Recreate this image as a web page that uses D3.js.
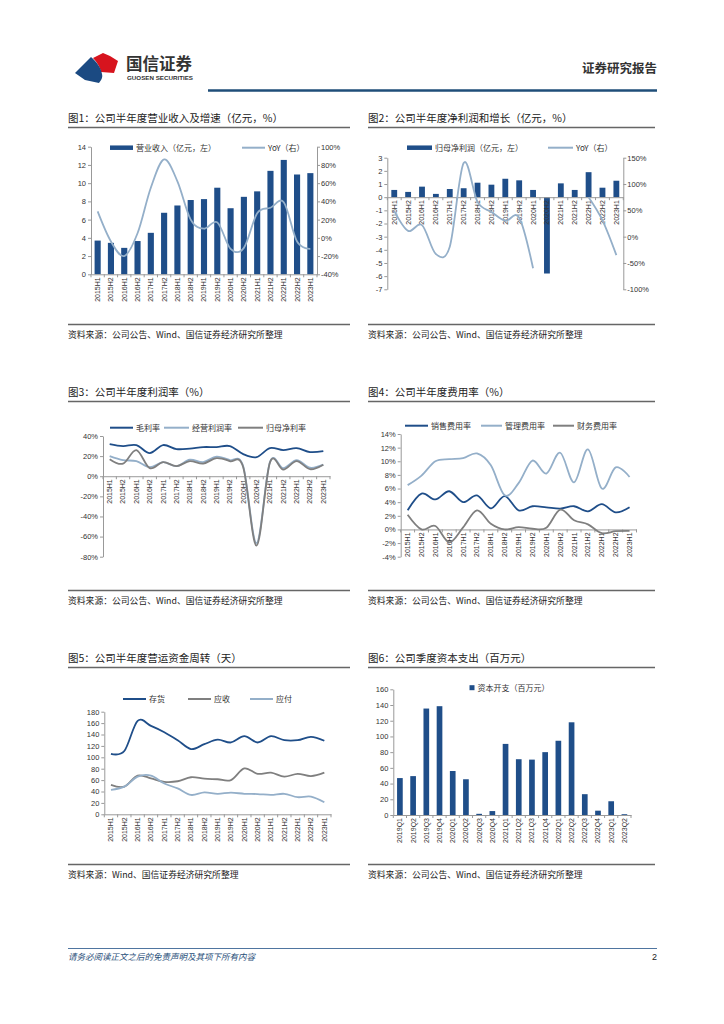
<!DOCTYPE html>
<html><head><meta charset="utf-8">
<script src="https://cdn.jsdelivr.net/npm/d3@7/dist/d3.min.js"></script>
<style>
body{margin:0;background:#fff;}
text{font-family:"Liberation Sans","Noto Sans CJK SC",sans-serif;}
.cjk{font-family:"Noto Sans CJK SC","Liberation Sans",sans-serif;}
</style></head>
<body>
<script>
// ---------- DATA ----------
const catsH = ["2015H1","2015H2","2016H1","2016H2","2017H1","2017H2","2018H1","2018H2","2019H1","2019H2","2020H1","2020H2","2021H1","2021H2","2022H1","2022H2","2023H1"];
const catsQ = ["2019Q1","2019Q2","2019Q3","2019Q4","2020Q1","2020Q2","2020Q3","2020Q4","2021Q1","2021Q2","2021Q3","2021Q4","2022Q1","2022Q2","2022Q3","2022Q4","2023Q1","2023Q2"];

const revenue    = [3.7,3.45,2.9,3.65,4.55,6.75,7.55,8.15,8.25,9.5,7.25,8.5,9.1,11.35,12.55,10.95,11.1];
const revenueYoY = [29,-4,-20,5,55,86,62,20,10,17,-12,-11,27,33,39,-4,-12];

const netProfit    = [0.55,0.4,0.8,0.25,0.62,0.68,1.1,0.95,1.4,1.28,0.55,-5.8,1.05,0.55,1.9,0.72,1.25];
const netProfitYoY = [49,11,22,-33,-19,140,66,47,30,36,-60,null,null,null,75,31,-35];

const grossMargin = [32,30,31,23,31,27,27.5,29,29,30,22,19,28,26,28,24,25];
const opMargin    = [20,16,15,9,14,10,16.5,14,19.5,16,10,-66.5,14,8,16,8.5,11.5];
const netMargin   = [17,12.5,26,8,14,10,15,12.5,18,15,9,-69,13.5,6.5,15,7,11.5];

const sellingRate = [2.8,5.25,4.4,5.6,4.0,5.0,3.1,4.9,2.8,3.4,3.25,3.05,3.4,2.65,3.7,2.5,3.25];
const adminRate   = [6.5,7.9,10,10.3,10.45,11.15,9.4,5.0,6.8,10.1,8.2,11.25,6.9,11.75,6.0,9.1,7.7];
const financeRate = [2.15,0,0.5,-1.9,0.3,2.8,0.85,0,0.35,0.1,0.25,2.9,1.35,0.75,-0.55,-0.25,-0.2];

const inventoryDays  = [106,111,164,155,144,130,114.5,123,131,126,137,126,137,130,130,136,129];
const receivableDays = [51.5,48.5,68,63,57,58,65,62.5,61.5,60,80.5,71,73,66,71,67,73];
const payableDays    = [43,48.5,66,68,54,45.5,34,38.5,36,38,36,35.5,34,36,30,31,21];

const capex = [47,49.5,135.5,138.5,56,45.5,1.5,5,90.5,71,70.5,80,94.5,118,26.5,5.5,17.5,1];

const ticks1L = [0,2,4,6,8,10,12,14];
const ticks1R = [-40,-20,0,20,40,60,80,100];
const ticks2L = [3,2,1,0,-1,-2,-3,-4,-5,-6,-7];
const ticks2R = [150,100,50,0,-50,-100];
const ticks3  = [40,20,0,-20,-40,-60,-80];
const ticks4  = [14,12,10,8,6,4,2,0,-2,-4];
const ticks5  = [0,20,40,60,80,100,120,140,160,180];
const ticks6  = [0,20,40,60,80,100,120,140,160];

// ---------- STYLE ----------
const NAVY = "#1f4e89", LIGHT = "#94afc9", GREY = "#7f7f7f", AX = "#999";
const W = 724, H = 1024;
const svg = d3.select("body").append("svg").attr("width", W).attr("height", H);

// ---------- HEADER ----------
svg.append("path").attr("d","M93,58 L103,53 L110,56 L118,61 L114,73 L101,72 C100,67 97,62 93,58 Z").attr("fill","#d7141e");
svg.append("path").attr("d","M75,73 L91,57 C97,62 101,68 102,74 C103,78 101,80 99,83 L85,80 Z").attr("fill","#1b4a82");
svg.append("text").attr("class","cjk").attr("x",126).attr("y",70).attr("font-size",16.5).attr("font-weight","bold").attr("fill","#333").text("国信证券");
svg.append("text").attr("x",127).attr("y",79.5).attr("font-size",5.5).attr("font-weight","bold").attr("fill","#333")
  .attr("textLength",66).attr("lengthAdjust","spacingAndGlyphs").text("GUOSEN SECURITIES");
svg.append("text").attr("class","cjk").attr("x",657).attr("y",73).attr("text-anchor","end").attr("font-size",12.5).attr("font-weight","bold").attr("fill","#333").text("证券研究报告");
svg.append("line").attr("x1",208).attr("x2",657).attr("y1",90.5).attr("y2",90.5).attr("stroke","#1f4e79").attr("stroke-width",2.5);

// ---------- FOOTER ----------
svg.append("line").attr("x1",68).attr("x2",657).attr("y1",948.5).attr("y2",948.5).attr("stroke","#4f75a0").attr("stroke-width",1);
svg.append("text").attr("class","cjk").attr("x",68).attr("y",960).attr("font-size",8.5).attr("font-style","italic").attr("fill","#1f4e79").text("请务必阅读正文之后的免责声明及其项下所有内容");
svg.append("text").attr("x",657).attr("y",960).attr("text-anchor","end").attr("font-size",9).attr("fill","#222").text("2");

// ---------- HELPERS ----------
function frame(x0, x1, titleY, srcY, title, src){
  svg.append("text").attr("class","cjk").attr("x",x0).attr("y",titleY).attr("font-size",10.5).attr("fill","#222").text(title);
  svg.append("line").attr("x1",x0).attr("x2",x1).attr("y1",titleY+5.5).attr("y2",titleY+5.5).attr("stroke","#666").attr("stroke-width",1.5);
  svg.append("line").attr("x1",x0).attr("x2",x1).attr("y1",srcY-13.5).attr("y2",srcY-13.5).attr("stroke","#666").attr("stroke-width",1.5);
  svg.append("text").attr("class","cjk").attr("x",x0).attr("y",srcY).attr("font-size",8.8).attr("fill","#222").text(src);
}
function styleAxis(g){
  g.selectAll(".domain").attr("stroke",AX);
  g.selectAll(".tick line").attr("stroke",AX);
  g.selectAll(".tick text").attr("font-size",7.5).attr("fill","#333").attr("font-family","Liberation Sans, sans-serif");
}
function leftAxis(scale, x, ticks, fmt){
  const g = svg.append("g").attr("transform",`translate(${x},0)`)
    .call(d3.axisLeft(scale).tickValues(ticks).tickSize(3).tickPadding(2).tickFormat(fmt).tickSizeOuter(0));
  styleAxis(g); return g;
}
function rightAxis(scale, x, ticks, fmt){
  const g = svg.append("g").attr("transform",`translate(${x},0)`)
    .call(d3.axisRight(scale).tickValues(ticks).tickSize(3).tickPadding(1).tickFormat(fmt).tickSizeOuter(0));
  styleAxis(g); return g;
}
function catAxis(band, y, cats){
  const g = svg.append("g").attr("transform",`translate(0,${y})`)
    .call(d3.axisBottom(band).tickSize(0).tickPadding(0).tickSizeOuter(0));
  styleAxis(g);
  g.selectAll(".tick text").attr("font-size",7).attr("transform","rotate(-90)").attr("text-anchor","end")
    .attr("x",-3).attr("y",0).attr("dy","0.35em");
  const edges = cats.map(c => band(c)).concat([band.range()[1]]);
  g.selectAll(".edge").data(edges).enter().append("line").attr("class","edge")
    .attr("x1",d=>d).attr("x2",d=>d).attr("y1",0).attr("y2",3).attr("stroke",AX);
  return g;
}
function drawLine(band, scale, values, color, w){
  const line = d3.line().defined(d => d != null)
    .x((d,i) => band(band.domain()[i]) + band.bandwidth()/2)
    .y(d => scale(d)).curve(d3.curveCardinal.tension(0));
  svg.append("path").datum(values).attr("d",line).attr("fill","none").attr("stroke",color).attr("stroke-width",w||1.8);
}
function drawBars(band, scale, values, frac, color){
  const bw = band.bandwidth()*frac;
  svg.append("g").selectAll("rect").data(values).enter().append("rect")
    .attr("x",(d,i)=> band(band.domain()[i]) + (band.bandwidth()-bw)/2)
    .attr("y",d => scale(Math.max(0,d)))
    .attr("width",bw)
    .attr("height",d => Math.abs(scale(d)-scale(0)))
    .attr("fill",color||NAVY);
}
function legLine(x, y, color, label, len){
  svg.append("line").attr("x1",x).attr("x2",x+(len||23)).attr("y1",y).attr("y2",y).attr("stroke",color).attr("stroke-width",2);
  svg.append("text").attr("class","cjk").attr("x",x+(len||23)+3).attr("y",y+3).attr("font-size",8).attr("fill","#333").text(label);
}
function legBar(x, y, w, h, label){
  svg.append("rect").attr("x",x).attr("y",y-h/2).attr("width",w).attr("height",h).attr("fill",NAVY);
  svg.append("text").attr("class","cjk").attr("x",x+w+3).attr("y",y+3).attr("font-size",8).attr("fill","#333").text(label);
}
const pct = d => d + "%";
const num = d => String(d);
const SRC = "资料来源：公司公告、Wind、国信证券经济研究所整理";

// ---------- CHART 1 ----------
{
  frame(68, 350, 122, 338, "图1：公司半年度营业收入及增速（亿元，%）", SRC);
  const band = d3.scaleBand().domain(catsH).range([91, 317]);
  const yL = d3.scaleLinear().domain([0,14]).range([274.3,146.7]);
  const yR = d3.scaleLinear().domain([-40,100]).range([274.3,146.7]);
  drawBars(band, yL, revenue, 0.46);
  leftAxis(yL, 91, ticks1L, num);
  rightAxis(yR, 317, ticks1R, pct);
  catAxis(band, yL(0), catsH);
  drawLine(band, yR, revenueYoY, LIGHT, 1.8);
  legBar(110, 147.7, 23, 4.5, "营业收入（亿元，左）");
  legLine(242, 147.7, LIGHT, "YoY（右）");
}

// ---------- CHART 2 ----------
{
  frame(368, 655, 122, 338, "图2：公司半年度净利润和增长（亿元，%）", SRC);
  const band = d3.scaleBand().domain(catsH).range([387.3, 623.3]);
  const yL = d3.scaleLinear().domain([-7,3]).range([289.3,157.7]);
  const yR = d3.scaleLinear().domain([-100,150]).range([289.3,157.7]);
  drawBars(band, yL, netProfit, 0.42);
  leftAxis(yL, 387.3, ticks2L, num);
  rightAxis(yR, 623.3, ticks2R, pct);
  catAxis(band, yL(0), catsH);
  drawLine(band, yR, netProfitYoY, LIGHT, 1.8);
  legBar(407, 147.7, 25, 4.5, "归母净利润（亿元，左）");
  legLine(548, 147.7, LIGHT, "YoY（右）", 25);
}

// ---------- CHART 3 ----------
{
  frame(68, 350, 396, 604, "图3：公司半年度利润率（%）", SRC);
  const band = d3.scaleBand().domain(catsH).range([103, 330]);
  const y = d3.scaleLinear().domain([-80,40]).range([556.7,436]);
  leftAxis(y, 103, ticks3, pct);
  catAxis(band, y(0), catsH);
  drawLine(band, y, grossMargin, NAVY, 1.8);
  drawLine(band, y, opMargin, LIGHT, 1.8);
  drawLine(band, y, netMargin, GREY, 1.8);
  legLine(110, 427.7, NAVY, "毛利率");
  legLine(164, 427.7, LIGHT, "经营利润率", 25);
  legLine(238, 427.7, GREY, "归母净利率", 25);
}

// ---------- CHART 4 ----------
{
  frame(368, 655, 396, 604, "图4：公司半年度费用率（%）", SRC);
  const band = d3.scaleBand().domain(catsH).range([400.7, 636.5]);
  const y = d3.scaleLinear().domain([-4,14]).range([556.7,434]);
  leftAxis(y, 400.7, ticks4, pct);
  catAxis(band, y(0), catsH);
  drawLine(band, y, sellingRate, NAVY, 1.8);
  drawLine(band, y, adminRate, LIGHT, 1.8);
  drawLine(band, y, financeRate, GREY, 1.8);
  legLine(405, 425.7, NAVY, "销售费用率");
  legLine(481, 425.7, LIGHT, "管理费用率", 21);
  legLine(553, 425.7, GREY, "财务费用率", 21);
}

// ---------- CHART 5 ----------
{
  frame(68, 350, 662, 878, "图5：公司半年度营运资金周转（天）", "资料来源：Wind、国信证券经济研究所整理");
  const band = d3.scaleBand().domain(catsH).range([104.3, 331]);
  const y = d3.scaleLinear().domain([0,180]).range([814.3,711.7]);
  leftAxis(y, 104.3, ticks5, num);
  catAxis(band, y(0), catsH);
  drawLine(band, y, inventoryDays, NAVY, 1.8);
  drawLine(band, y, receivableDays, GREY, 1.8);
  drawLine(band, y, payableDays, LIGHT, 1.8);
  legLine(123, 699, NAVY, "存货");
  legLine(188, 699, GREY, "应收");
  legLine(250, 699, LIGHT, "应付");
}

// ---------- CHART 6 ----------
{
  frame(368, 655, 662, 878, "图6：公司季度资本支出（百万元）", SRC);
  const band = d3.scaleBand().domain(catsQ).range([393.3, 631]);
  const y = d3.scaleLinear().domain([0,160]).range([815,689.3]);
  drawBars(band, y, capex, 0.43);
  leftAxis(y, 393.3, ticks6, num);
  catAxis(band, y(0), catsQ);
  legBar(469.5, 687.7, 5, 5, "资本开支（百万元）");
}
</script>
</body></html>
